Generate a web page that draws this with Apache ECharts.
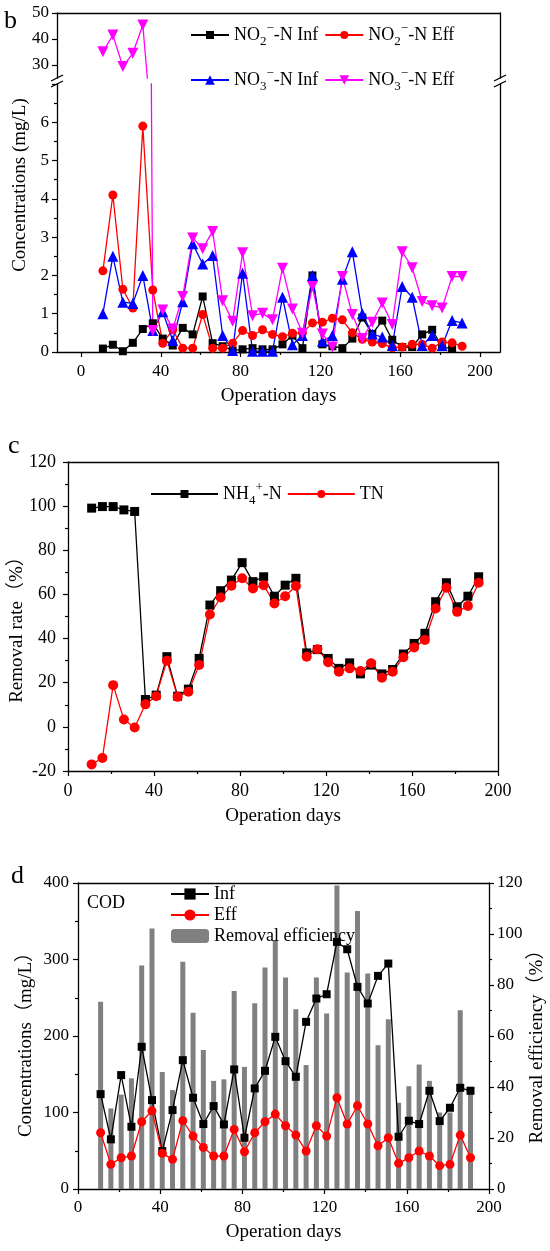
<!DOCTYPE html>
<html>
<head>
<meta charset="utf-8">
<script src="https://cdn.jsdelivr.net/npm/echarts@6/dist/echarts.min.js"></script>
<style>
  html, body { margin: 0; padding: 0; background: #fff; }
  #chart { width: 550px; height: 1251px; }
</style>
</head>
<body>
<div id="chart"></div>
<script>
// 运行天数（所有面板共用）
const days = [11, 16, 21, 26, 31, 36, 41, 46, 51, 56, 61, 66, 71, 76, 81, 86, 91, 96, 101, 106,
  111, 116, 121, 126, 131, 136, 141, 146, 151, 156, 161, 166, 171, 176, 181, 186, 191]
const dayTicks = [0, 40, 80, 120, 160, 200]
const dayMinorTicks = [20, 60, 100, 140, 180]

// b: 亚硝氮 / 硝氮
const no2Inf = [0.09, 0.19, 0.02, 0.24, 0.6, 0.75, 0.35, 0.17, 0.63, 0.46, 1.45, 0.23, 0.15, 0.04, 0.07, 0.1, 0.07, 0.07, 0.2, 0.43,
  0.1, 2.0, 0.2, 0.15, 0.1, 0.35, 0.9, 0.47, 0.82, 0.32, 0.13, 0.13, 0.46, 0.58, 0.13, 0.09, null]
const no2Eff = [2.12, 4.1, 1.64, 1.15, 5.9, 1.62, 0.23, 0.58, 0.1, 0.1, 0.98, 0.1, 0.1, 0.23, 0.56, 0.43, 0.58, 0.46, 0.4, 0.49,
  0.5, 0.76, 0.78, 0.88, 0.84, 0.5, 0.33, 0.26, 0.22, 0.11, 0.13, 0.2, 0.2, 0.1, 0.26, 0.24, 0.15]
const no3Inf = [1.0, 2.5, 1.3, 1.27, 2.0, 0.56, 1.05, 0.3, 1.31, 2.83, 2.3, 2.52, 0.43, 0.04, 2.06, 0.02, 0.02, 0.02, 1.43, 0.19,
  0.43, 2.0, 0.28, 0.43, 1.9, 2.62, 1.0, 0.47, 0.39, 0.17, 1.71, 1.43, 0.17, 0.43, 0.17, 0.82, 0.76]
const no3Eff = [35.1, 41.5, 29.4, 34.5, 45.4, 0.56, 1.1, 0.6, 1.45, 2.98, 2.7, 3.15, 1.34, 0.8, 2.59, 0.95, 1.01, 0.84, 2.19, 1.12,
  0.49, 1.71, 0.47, 0.13, 1.97, 0.98, 0.35, 0.78, 1.28, 0.72, 2.62, 2.2, 1.32, 1.21, 1.15, 1.97, 1.97]
const bUpperTicks = [30, 40, 50]

// c: 去除率
const nh4Removal = [99.1, 99.8, 99.8, 98.3, 97.6, 12.4, 14.4, 31.8, 13.9, 17.1, 31, 55.2, 61.7, 66.5, 74.4, 65.8, 68, 59.2, 64.2, 67.3,
  33.5, 35, 31, 26.5, 29, 24, 28, 24, 26, 33, 37.8, 42.4, 56.7, 65.3, 54.4, 59.2, 68]
const tnRemoval = [-17, -14.1, 18.9, 3.3, -0.3, 10.2, 13.9, 30, 13.6, 15.9, 28, 50.9, 58.6, 63.9, 67.3, 62.7, 64.2, 55.9, 59.2, 63.8,
  31.8, 35.2, 29.3, 25, 26.5, 25.3, 28.8, 22.3, 25, 31.5, 36, 39.4, 53.6, 63, 52.1, 54.8, 65.3]

// d: COD
const codInf = [124, 64.9, 148.9, 81.4, 185.9, 116.2, 49.6, 103.2, 168.4, 119.3, 84.9, 108.4, 84.4, 156.3, 67, 131.5, 154.5, 198.9, 167.1, 146.7,
  218.5, 249, 254.6, 323, 313.4, 264.2, 242.5, 278.6, 294.7, 68.3, 89.2, 84.9, 128.4, 88.8, 106.2, 132.3, 128.4]
const codEff = [73.5, 32.2, 40.9, 43.1, 87.9, 102.2, 46.6, 38.8, 89.2, 69.2, 54.4, 43.1, 43.1, 77.9, 48.7, 73.5, 87.9, 97.9, 82.7, 70.5,
  49.6, 82.7, 69.2, 119.3, 84.9, 108.8, 84.9, 56.6, 67, 33.5, 40.9, 49.6, 43.1, 30.5, 32.2, 70.5, 40.9]
const codRemoval = [73.4, 31.6, 37, 43.4, 87.6, 102.2, 45.9, 38.8, 89.1, 69.1, 54.5, 42.4, 43, 77.6, 47.9, 72.8, 86.9, 97.6, 82.9, 70.5,
  48.6, 82.9, 68.8, 119, 84.9, 109, 84.5, 56.4, 66.6, 33.8, 40.3, 48.8, 42.4, 30, 30, 70.1, 40.1]

const FONT = "'Liberation Serif', 'Times New Roman', serif"
const FONT_CJK = "'Liberation Serif', 'Noto Sans CJK SC', serif"

const pairs = (vals) => days.map((d, i) => [d, vals[i]])

// 图例里的上下标
const rich = {
  t: { fontFamily: FONT, fontSize: 18, lineHeight: 26, color: '#000' },
  sub: { fontFamily: FONT, fontSize: 13, lineHeight: 13, verticalAlign: 'bottom', color: '#000' },
  sup: { fontFamily: FONT, fontSize: 13, lineHeight: 13, verticalAlign: 'top', color: '#000' }
}
const legendLabels = {
  'NO2 Inf': '{t|NO}{sub|2}{sup|−}{t|-N Inf}',
  'NO2 Eff': '{t|NO}{sub|2}{sup|−}{t|-N Eff}',
  'NO3 Inf': '{t|NO}{sub|3}{sup|−}{t|-N Inf}',
  'NO3 Eff': '{t|NO}{sub|3}{sup|−}{t|-N Eff}',
  'NH4': '{t|NH}{sub|4}{sup|+}{t|-N}',
  'TN': '{t|TN}'
}

const axisLine = { show: true, onZero: false, lineStyle: { color: '#000', width: 1.3 } }
const tick = { show: true, inside: false, length: 5, lineStyle: { color: '#000', width: 1.2 } }
const minorTick = { show: true, splitNumber: 2, length: 3, lineStyle: { color: '#000', width: 1.2 } }
const label = (size, margin) => ({ fontFamily: FONT, fontSize: size, color: '#000', margin })

// 只画边框线的轴
const frameX = (gridIndex, position, min, max) => ({
  type: 'value', gridIndex, position, min, max,
  axisLine, axisTick: { show: false }, axisLabel: { show: false }, splitLine: { show: false }
})
const frameY = (gridIndex, position, min, max) => ({
  type: 'value', gridIndex, position, min, max,
  axisLine, axisTick: { show: false }, axisLabel: { show: false }, splitLine: { show: false }
})

const lineSeries = (name, vals, xi, yi, color, symbol, size, extra) => ({
  name, type: 'line', xAxisIndex: xi, yAxisIndex: yi, data: pairs(vals),
  symbol, symbolSize: size, connectNulls: false,
  lineStyle: { color, width: 1.3 }, itemStyle: { color },
  ...extra
})

// 断轴标记
const breakMark = (x, y) => [0, 6].map(dy => ({
  type: 'line', silent: true,
  shape: { x1: x - 6, y1: y + dy + 3, x2: x + 6, y2: y + dy - 3 },
  style: { stroke: '#000', lineWidth: 1.3 }
}))

const vText = (text, x, y, rot) => ({
  type: 'text', x, y, rotation: rot, silent: true,
  style: { text, fontFamily: FONT_CJK, fontSize: 19, fill: '#000', align: 'center', verticalAlign: 'middle' }
})
const letter = (text, x, y) => ({
  type: 'text', x, y, silent: true,
  style: { text, fontFamily: FONT, fontSize: 26, fill: '#000', align: 'left', verticalAlign: 'middle' }
})

const xName = { name: 'Operation days', nameLocation: 'middle', nameTextStyle: { fontFamily: FONT, fontSize: 19, color: '#000' } }

const option = {
  backgroundColor: '#fff',
  animation: false,
  grid: [
    { left: 57, top: 13, width: 443, height: 65 },   // b 上段
    { left: 57, top: 84, width: 443, height: 268 },  // b 下段
    { left: 68, top: 462, width: 430, height: 309 }, // c
    { left: 78, top: 883, width: 411, height: 306 }  // d
  ],
  legend: [
    {
      left: 185, top: 17, itemWidth: 38, itemHeight: 10, itemGap: 6,
      data: ['NO2 Inf', 'NO2 Eff'], formatter: n => legendLabels[n], textStyle: { rich }
    },
    {
      left: 185, top: 62, itemWidth: 38, itemHeight: 12, itemGap: 6,
      data: ['NO3 Inf', 'NO3 Eff'], formatter: n => legendLabels[n], textStyle: { rich }
    },
    {
      left: 145, top: 476, itemWidth: 67, itemHeight: 10, itemGap: 5,
      data: ['NH4', 'TN'], formatter: n => legendLabels[n], textStyle: { rich }
    },
    {
      left: 165, top: 880, orient: 'vertical', itemWidth: 38, itemHeight: 14, itemGap: 3,
      data: ['Inf', 'Eff', 'Removal efficiency'],
      textStyle: { fontFamily: FONT, fontSize: 18, color: '#000', lineHeight: 18 }
    }
  ],
  xAxis: [
    frameX(0, 'top', -12, 210),
    {
      type: 'value', gridIndex: 1, position: 'bottom', min: -12, max: 210, ...xName, nameGap: 35,
      axisLine, axisTick: { ...tick, customValues: dayTicks },
      axisLabel: { ...label(17, 11), customValues: dayTicks }, splitLine: { show: false }
    },
    {
      type: 'value', gridIndex: 1, position: 'bottom', min: -12, max: 210,
      axisLine: { show: false }, axisTick: { ...tick, length: 3, customValues: dayMinorTicks },
      axisLabel: { show: false }, splitLine: { show: false }
    },
    {
      type: 'value', gridIndex: 2, position: 'bottom', min: 0, max: 200, interval: 40, ...xName, nameGap: 36,
      axisLine, axisTick: tick, minorTick, axisLabel: label(18, 11), splitLine: { show: false }
    },
    frameX(2, 'top', 0, 200),
    {
      type: 'value', gridIndex: 3, position: 'bottom', min: 0, max: 200, interval: 40, ...xName, nameGap: 34,
      axisLine, axisTick: tick, minorTick, axisLabel: label(17, 10), splitLine: { show: false }
    },
    frameX(3, 'top', 0, 200)
  ],
  yAxis: [
    {
      type: 'value', gridIndex: 0, position: 'left', min: 25, max: 50,
      axisLine, axisTick: { ...tick, customValues: bUpperTicks },
      axisLabel: { ...label(17, 8), customValues: bUpperTicks }, splitLine: { show: false }
    },
    frameY(0, 'right', 25, 50),
    {
      type: 'value', gridIndex: 1, position: 'left', min: 0, max: 7, interval: 1,
      axisLine, axisTick: tick, minorTick,
      axisLabel: { ...label(17, 8), formatter: v => (v === 7 ? '' : v) }, splitLine: { show: false }
    },
    frameY(1, 'right', 0, 7),
    {
      type: 'value', gridIndex: 2, position: 'left', min: -20, max: 120, interval: 20,
      axisLine, axisTick: tick, minorTick, axisLabel: label(18, 12), splitLine: { show: false }
    },
    frameY(2, 'right', -20, 120),
    {
      type: 'value', gridIndex: 3, position: 'left', min: 0, max: 400, interval: 100,
      axisLine, axisTick: tick, minorTick, axisLabel: label(17, 9), splitLine: { show: false }
    },
    {
      type: 'value', gridIndex: 3, position: 'right', min: 0, max: 120, interval: 20,
      axisLine, axisTick: tick, minorTick, axisLabel: label(17, 8), splitLine: { show: false }
    }
  ],
  series: [
    // b 下段
    lineSeries('NO2 Inf', no2Inf, 1, 2, '#000000', 'rect', 8),
    lineSeries('NO2 Eff', no2Eff, 1, 2, '#ff0000', 'circle', 9),
    lineSeries('NO3 Inf', no3Inf, 1, 2, '#0000ff', 'triangle', 11),
    lineSeries('NO3 Eff', no3Eff, 1, 2, '#ff00ff', 'triangle', 11, { symbolRotate: 180 }),
    // b 上段（只有出水硝氮超出下段范围）
    lineSeries('NO3 Eff', no3Eff, 0, 0, '#ff00ff', 'triangle', 11, { symbolRotate: 180 }),
    // c
    lineSeries('NH4', nh4Removal, 3, 4, '#000000', 'rect', 9),
    lineSeries('TN', tnRemoval, 3, 4, '#ff0000', 'circle', 10),
    // d
    {
      name: 'Removal efficiency', type: 'bar', xAxisIndex: 5, yAxisIndex: 7,
      data: pairs(codRemoval), barWidth: 5, itemStyle: { color: '#808080' }, z: 1
    },
    lineSeries('Inf', codInf, 5, 6, '#000000', 'rect', 8, { z: 3 }),
    lineSeries('Eff', codEff, 5, 6, '#ff0000', 'circle', 9, { z: 3 })
  ],
  graphic: [
    letter('b', 4, 21),
    letter('c', 8, 446),
    letter('d', 11, 876),
    { type: 'text', x: 87, y: 903, silent: true,
      style: { text: 'COD', fontFamily: FONT, fontSize: 18, fill: '#000', align: 'left', verticalAlign: 'middle' } },
    ...breakMark(57, 78),
    ...breakMark(500, 78),
    vText('Concentrations (mg/L)', 20, 185, Math.PI / 2),
    vText('Removal rate（%）', 17, 625, Math.PI / 2),
    vText('Concentrations（mg/L）', 26, 1040, Math.PI / 2),
    vText('Removal efficiency（%）', 537, 1042, Math.PI / 2)
  ]
}

const chart = echarts.init(document.getElementById('chart'))
chart.setOption(option)
</script>
</body>
</html>
